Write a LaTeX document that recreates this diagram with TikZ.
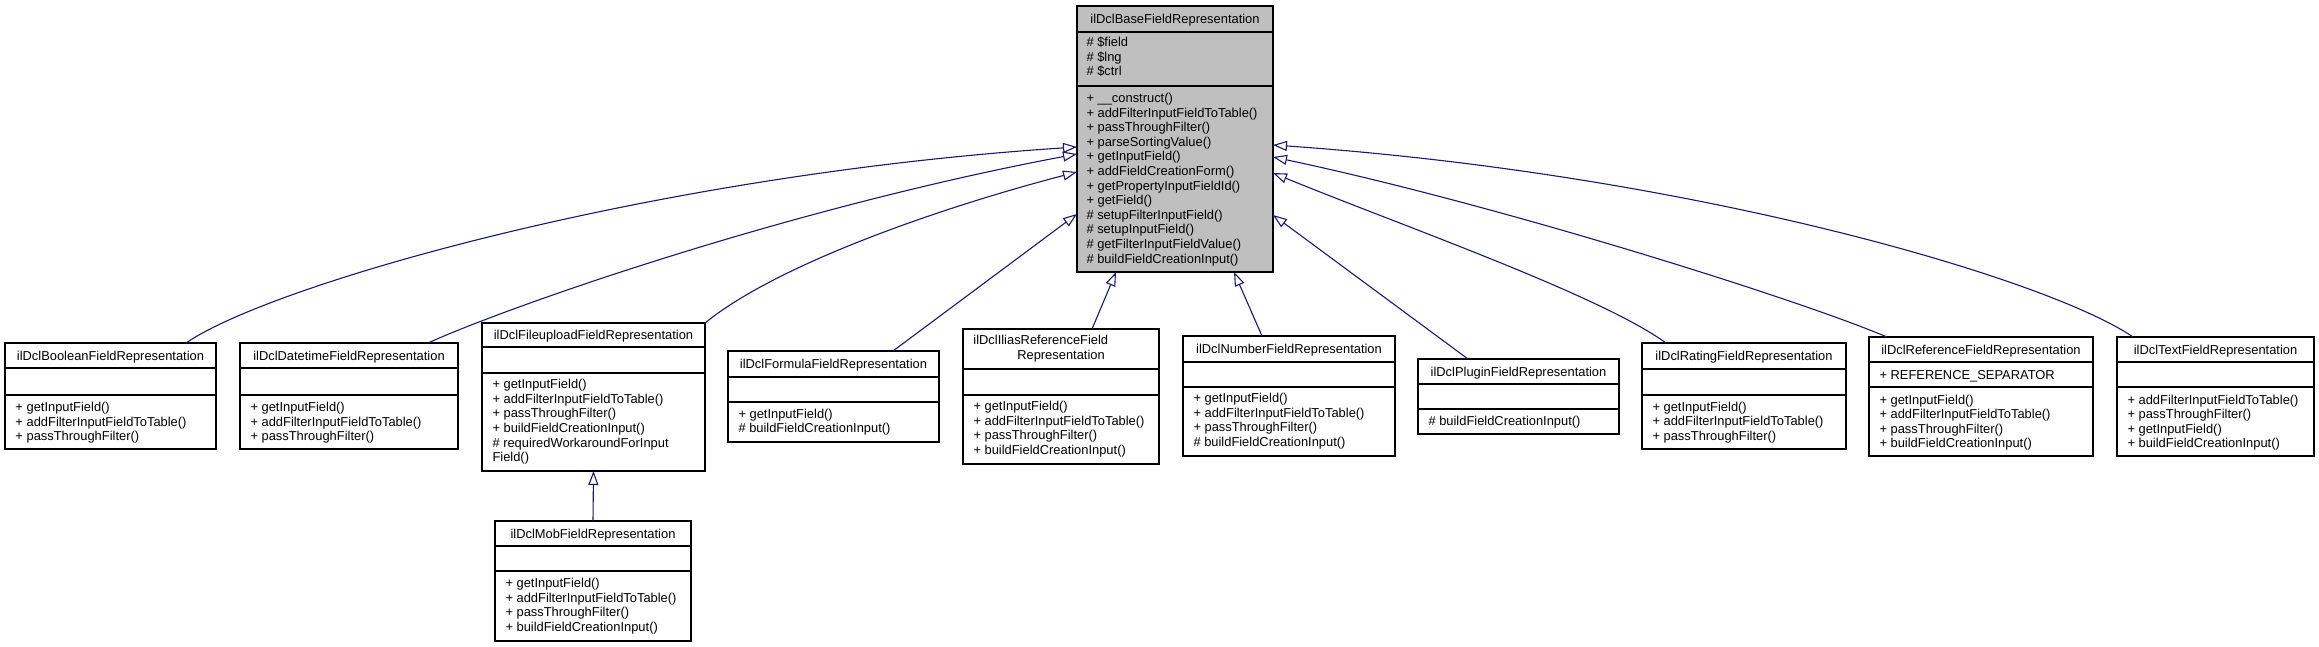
\documentclass[tikz,border=0pt]{standalone}
\usepackage{fontspec}
\setmainfont{Liberation Sans}
\usetikzlibrary{arrows.meta}
\definecolor{edgecol}{HTML}{191970}
\definecolor{basegray}{HTML}{BFBFBF}
\tikzset{
  classbox/.style={draw=black, line width=1.3pt, inner sep=0pt, outer sep=0pt},
  sepline/.style={draw=black, line width=1.3pt},
  txt/.style={inner sep=0pt, outer sep=0pt, font=\fontsize{12.9}{14.6}\selectfont},
  inh/.style={draw=edgecol, line width=1.1pt, -{Triangle[open, length=14pt, width=10pt]}},
}
% style, name, x1, y1, x2, y2, sep1, sep2
\newcommand\classframe[8]{%
  \node[classbox,#1, minimum width={#5-#3}, minimum height={#6-#4}, anchor=north west] (#2) at (#3,#4) {};
  \draw[sepline] (#3,#7) -- (#5,#7);
  \draw[sepline] (#3,#8) -- (#5,#8);
}
% name, xc, baseline, text
\newcommand\classtitle[4]{\node[txt, anchor=base] (#1-title) at (#2,#3) {#4};}
% name, suffix, x, baseline, lines
\newcommand\classlist[5]{\node[txt, anchor=base west] (#1-#2) at (#3,#4) {\begin{tabular}[t]{@{}l@{}}#5\end{tabular}};}

\begin{document}
\begin{tikzpicture}[x=1pt, y=-1pt]
\fill[white] (0,0) rectangle (2319,647);
\useasboundingbox (0,0) rectangle (2319,647);

% base class
\classframe{fill=basegray}{base}{1077}{6}{1273}{272}{32}{86}
\classtitle{base}{1175}{23.6}{ilDclBaseFieldRepresentation}
\classlist{base}{attr}{1086.5}{46.6}{\# \$field\\ \# \$lng\\ \# \$ctrl}
\classlist{base}{meth}{1086.5}{102.6}{+ \_\_construct()\\ + addFilterInputFieldToTable()\\ + passThroughFilter()\\ + parseSortingValue()\\ + getInputField()\\ + addFieldCreationForm()\\ + getPropertyInputFieldId()\\ + getField()\\ \# setupFilterInputField()\\ \# setupInputField()\\ \# getFilterInputFieldValue()\\ \# buildFieldCreationInput()}

% Boolean
\classframe{}{bool}{5}{343}{216}{449}{368}{395}
\classtitle{bool}{110.5}{360.1}{ilDclBooleanFieldRepresentation}
\classlist{bool}{meth}{15.5}{411.6}{+ getInputField()\\ + addFilterInputFieldToTable()\\ + passThroughFilter()}

% Datetime
\classframe{}{date}{240}{343}{458}{449}{368}{395}
\classtitle{date}{349}{360.1}{ilDclDatetimeFieldRepresentation}
\classlist{date}{meth}{250.5}{411.6}{+ getInputField()\\ + addFilterInputFieldToTable()\\ + passThroughFilter()}

% Fileupload
\classframe{}{file}{482}{323}{705}{471}{347}{373}
\classtitle{file}{593.5}{339.6}{ilDclFileuploadFieldRepresentation}
\classlist{file}{meth}{492.5}{388.6}{+ getInputField()\\ + addFilterInputFieldToTable()\\ + passThroughFilter()\\ + buildFieldCreationInput()\\ \# requiredWorkaroundForInput\\ Field()}

% Mob
\classframe{}{mob}{495}{521}{691}{641}{546}{571}
\classtitle{mob}{593}{538.1}{ilDclMobFieldRepresentation}
\classlist{mob}{meth}{505.5}{587.6}{+ getInputField()\\ + addFilterInputFieldToTable()\\ + passThroughFilter()\\ + buildFieldCreationInput()}

% Formula
\classframe{}{form}{728}{351}{939}{442}{377}{402}
\classtitle{form}{833.5}{368.6}{ilDclFormulaFieldRepresentation}
\classlist{form}{meth}{738.5}{418}{+ getInputField()\\ \# buildFieldCreationInput()}

% Ilias reference
\classframe{}{ilias}{963}{329}{1159}{464}{369}{395}
\node[txt, anchor=base west] (ilias-title) at (973.4,344.6) {ilDclIliasReferenceField};
\node[txt, anchor=base] (ilias-title2) at (1061,359.6) {Representation};
\classlist{ilias}{meth}{973.5}{410.6}{+ getInputField()\\ + addFilterInputFieldToTable()\\ + passThroughFilter()\\ + buildFieldCreationInput()}

% Number
\classframe{}{num}{1183}{336}{1395}{456}{362}{387}
\classtitle{num}{1289}{353.6}{ilDclNumberFieldRepresentation}
\classlist{num}{meth}{1193.5}{402.6}{+ getInputField()\\ + addFilterInputFieldToTable()\\ + passThroughFilter()\\ \# buildFieldCreationInput()}

% Plugin
\classframe{}{plug}{1418}{359}{1619}{434}{384}{409}
\classtitle{plug}{1518.5}{376.1}{ilDclPluginFieldRepresentation}
\classlist{plug}{meth}{1428.5}{425.3}{\# buildFieldCreationInput()}

% Rating
\classframe{}{rate}{1642}{343}{1846}{449}{369}{395}
\classtitle{rate}{1744}{360.6}{ilDclRatingFieldRepresentation}
\classlist{rate}{meth}{1652.5}{411.3}{+ getInputField()\\ + addFilterInputFieldToTable()\\ + passThroughFilter()}

% Reference
\classframe{}{ref}{1869}{337}{2093}{456}{362}{387}
\classtitle{ref}{1981}{354.1}{ilDclReferenceFieldRepresentation}
\classlist{ref}{attr}{1879.5}{379.1}{+ REFERENCE\_SEPARATOR}
\classlist{ref}{meth}{1879.5}{404}{+ getInputField()\\ + addFilterInputFieldToTable()\\ + passThroughFilter()\\ + buildFieldCreationInput()}

% Text
\classframe{}{text}{2117}{337}{2314}{456}{362}{387}
\classtitle{text}{2215.5}{354.1}{ilDclTextFieldRepresentation}
\classlist{text}{meth}{2127.5}{404}{+ addFilterInputFieldToTable()\\ + passThroughFilter()\\ + getInputField()\\ + buildFieldCreationInput()}

% arrow end points on the base class
\coordinate (bL1) at (base.west |- 0,147);
\coordinate (bL2) at (base.west |- 0,154);
\coordinate (bL3) at (base.west |- 0,172);
\coordinate (bL4) at (base.west |- 0,214);
\coordinate (bR1) at (base.east |- 0,145);
\coordinate (bR2) at (base.east |- 0,157);
\coordinate (bR3) at (base.east |- 0,173);
\coordinate (bR4) at (base.east |- 0,215);
\coordinate (bB1) at (1116,0 |- base.south);
\coordinate (bB2) at (1234,0 |- base.south);

% inheritance edges
\draw[inh] (186,0 |- bool.north) .. controls (270,285) and (650,175) .. (bL1);
\draw[inh] (428,0 |- date.north) .. controls (500,310) and (780,210) .. (bL2);
\draw[inh] (file.north east) .. controls (780,262) and (950,205) .. (bL3);
\draw[inh] (893,0 |- form.north) -- (bL4);
\draw[inh] (1092,0 |- ilias.north) -- (bB1);
\draw[inh] (1262,0 |- num.north) -- (bB2);
\draw[inh] (1468,0 |- plug.north) -- (bR4);
\draw[inh] (1666,0 |- rate.north) .. controls (1600,295) and (1400,225) .. (bR3);
\draw[inh] (1887,0 |- ref.north) .. controls (1800,300) and (1500,205) .. (bR2);
\draw[inh] (2133,0 |- text.north) .. controls (2050,280) and (1700,175) .. (bR1);
\draw[inh] (mob.north) -- (file.south);
\end{tikzpicture}
\end{document}
